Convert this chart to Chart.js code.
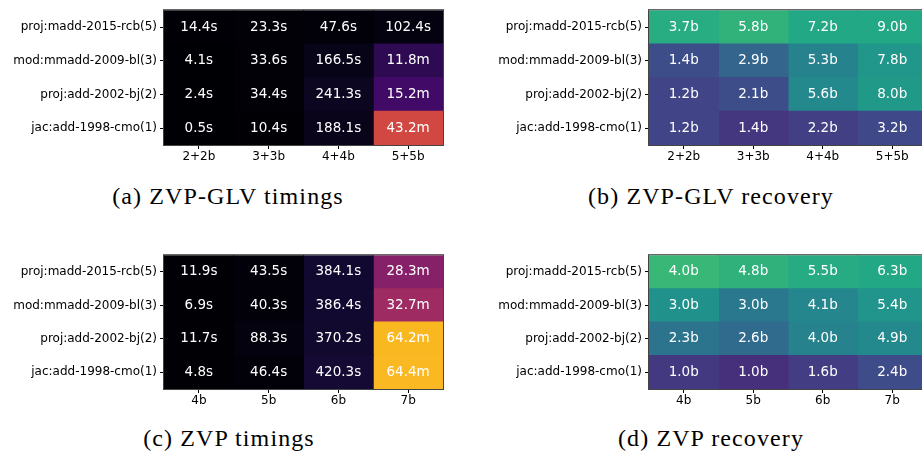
<!DOCTYPE html>
<html>
<head>
<meta charset="utf-8">
<script src="https://cdn.jsdelivr.net/npm/chart.js@4.4.1/dist/chart.umd.min.js"></script>
<style>
html, body { margin: 0; padding: 0; background: #fff; overflow: hidden; width: 922px; height: 458px; }
canvas { position: absolute; }
.caption { position: absolute; font-family: "Liberation Serif", serif; font-size: 24px; line-height: 24px; letter-spacing: 1.1px; color: #000; white-space: nowrap; transform: translateX(-50%); }
</style>
</head>
<body>
<canvas id="glv-time" width="461" height="175" style="left:0;top:0"></canvas>
<canvas id="glv-rec" width="466" height="175" style="left:461px;top:0"></canvas>
<canvas id="zvp-time" width="461" height="175" style="left:0;top:245px"></canvas>
<canvas id="zvp-rec" width="466" height="175" style="left:461px;top:245px"></canvas>
<div class="caption" style="left:228px;top:184px">(a) ZVP-GLV timings</div>
<div class="caption" style="left:711px;top:184px">(b) ZVP-GLV recovery</div>
<div class="caption" style="left:229px;top:426px">(c) ZVP timings</div>
<div class="caption" style="left:711px;top:426px">(d) ZVP recovery</div>
<script>
// rows, top to bottom
const rowLabels = ['proj:madd-2015-rcb(5)', 'mod:mmadd-2009-bl(3)', 'proj:add-2002-bj(2)', 'jac:add-1998-cmo(1)'];
const glvCols = ['2+2b', '3+3b', '4+4b', '5+5b'];
const zvpCols = ['4b', '5b', '6b', '7b'];
// total bits per column (used for colouring recovery)
const glvBits = [4, 6, 8, 10];
const zvpBits = [4, 5, 6, 7];

// timings in seconds
const glvTimes = [
    [14.4, 23.3, 47.6, 102.4],
    [4.1, 33.6, 166.5, 708],
    [2.4, 34.4, 241.3, 912],
    [0.5, 10.4, 188.1, 2592]
];
const zvpTimes = [
    [11.9, 43.5, 384.1, 1698],
    [6.9, 40.3, 386.4, 1962],
    [11.7, 88.3, 370.2, 3852],
    [4.8, 46.4, 420.3, 3864]
];
// recovered bits
const glvRecovery = [
    [3.7, 5.8, 7.2, 9.0],
    [1.4, 2.9, 5.3, 7.8],
    [1.2, 2.1, 5.6, 8.0],
    [1.2, 1.4, 2.2, 3.2]
];
const zvpRecovery = [
    [4.0, 4.8, 5.5, 6.3],
    [3.0, 3.0, 4.1, 5.4],
    [2.3, 2.6, 4.0, 4.9],
    [1.0, 1.0, 1.6, 2.4]
];

const INFERNO = ['#000004', '#160b39', '#420a68', '#6a176e', '#932667', '#bc3754', '#dd513a', '#f37819', '#fca50a', '#f6d746', '#fcffa4'];
const VIRIDIS = ['#440154', '#482475', '#414487', '#355f8d', '#2a788e', '#21918c', '#22a884', '#44bf70', '#7ad151', '#bddf26', '#fde725'];

function cmap(stops, t) {
    t = Math.max(0, Math.min(1, t));
    const p = t * (stops.length - 1);
    const i = Math.min(Math.floor(p), stops.length - 2);
    const f = p - i;
    const a = stops[i], b = stops[i + 1];
    const ch = k => {
        const u = parseInt(a.substr(1 + 2 * k, 2), 16), v = parseInt(b.substr(1 + 2 * k, 2), 16);
        return Math.round(u + (v - u) * f);
    };
    return 'rgb(' + ch(0) + ',' + ch(1) + ',' + ch(2) + ')';
}

const timeColour = (v) => cmap(INFERNO, v / 4600);
const recColour = bits => (v, j) => cmap(VIRIDIS, v / bits[j] / 1.5);
const fmtTime = v => v >= 600 ? (v / 60).toFixed(1) + 'm' : v.toFixed(1) + 's';
const fmtBits = v => v.toFixed(1) + 'b';

const cellLabels = {
    id: 'cellLabels',
    afterDatasetsDraw(chart) {
        const ctx = chart.ctx;
        ctx.save();
        ctx.font = '13.5px "DejaVu Sans"';
        ctx.fillStyle = '#fff';
        ctx.textAlign = 'center';
        ctx.textBaseline = 'middle';
        chart.data.datasets.forEach((ds, i) => {
            chart.getDatasetMeta(i).data.forEach((bar, k) => {
                ctx.fillText(ds.cellText[k], (bar.x + bar.base) / 2, bar.y);
            });
        });
        const a = chart.chartArea;
        ctx.strokeStyle = '#444';
        ctx.lineWidth = 1;
        ctx.strokeRect(a.left - 0.5, a.top - 0.5, a.right - a.left + 1, a.bottom - a.top + 1);
        ctx.restore();
    }
};

function heatmap(id, cols, grid, colourOf, fmt, dims) {
    const font = { family: 'DejaVu Sans', size: 12 };
    const datasets = cols.map((c, j) => ({
        label: c,
        data: rowLabels.map(() => 1),
        backgroundColor: grid.map(row => colourOf(row[j], j)),
        cellText: grid.map(row => fmt(row[j])),
        borderWidth: 0,
        inflateAmount: 0.5,
        barPercentage: 1,
        categoryPercentage: 1
    }));
    return new Chart(document.getElementById(id), {
        type: 'bar',
        data: { labels: rowLabels, datasets: datasets },
        options: {
            indexAxis: 'y',
            responsive: false,
            animation: false,
            layout: { padding: { left: 0, top: dims.top, right: dims.right, bottom: 0 } },
            plugins: { legend: { display: false }, tooltip: { enabled: false } },
            scales: {
                x: {
                    type: 'linear', stacked: true, min: 0, max: cols.length,
                    afterBuildTicks: s => { s.ticks = cols.map((c, j) => ({ value: j + 0.5 })); },
                    afterFit: s => { s.height = dims.xh; },
                    ticks: { callback: (v, i) => cols[i], font: font, color: '#000', padding: 1, maxRotation: 0, autoSkip: false },
                    grid: { drawOnChartArea: false, drawTicks: true, tickLength: 4, tickColor: '#000', tickWidth: 1 },
                    border: { display: false }
                },
                y: {
                    stacked: true,
                    afterFit: s => { s.width = dims.yw; },
                    ticks: { font: font, color: '#000', padding: 3, autoSkip: false },
                    grid: { offset: false, drawOnChartArea: false, drawTicks: true, tickLength: 4, tickColor: '#000', tickWidth: 1 },
                    border: { display: false }
                }
            }
        },
        plugins: [cellLabels]
    });
}

heatmap('glv-time', glvCols, glvTimes, timeColour, fmtTime, { top: 4, right: 18, xh: 30, yw: 164 });
heatmap('glv-rec', glvCols, glvRecovery, recColour(glvBits), fmtBits, { top: 4, right: 0, xh: 30, yw: 188 });
heatmap('zvp-time', zvpCols, zvpTimes, timeColour, fmtTime, { top: 5, right: 18, xh: 31, yw: 164 });
heatmap('zvp-rec', zvpCols, zvpRecovery, recColour(zvpBits), fmtBits, { top: 5, right: 0, xh: 31, yw: 188 });
</script>
</body>
</html>
